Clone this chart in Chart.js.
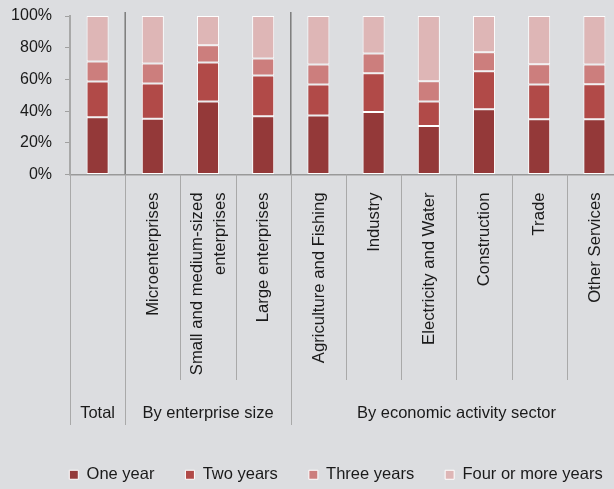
<!DOCTYPE html>
<html>
<head>
<meta charset="utf-8">
<script src="https://cdn.jsdelivr.net/npm/chart.js@4"></script>
<style>
  html, body { margin: 0; padding: 0; overflow: hidden; background: #dcdde0; }
  #wrap { width: 622px; height: 489px; position: relative; }
</style>
</head>
<body>
<div id="wrap"><canvas id="chart"></canvas></div>
<script>
const categories = [
  "Total", "Microenterprises", "Small and medium-sized enterprises", "Large enterprises",
  "Agriculture and Fishing", "Industry", "Electricity and Water", "Construction", "Trade", "Other Services"
];
// rotated labels under each bar (one entry per line)
const tickLabels = [
  [], ["Microenterprises"], ["Small and medium-sized", "enterprises"], ["Large enterprises"],
  ["Agriculture and Fishing"], ["Industry"], ["Electricity and Water"], ["Construction"], ["Trade"], ["Other Services"]
];
const groupNames = ["Total", "By enterprise size", "By economic activity sector"];
const groupSizes = [1, 3, 6];

const seriesNames = ["One year", "Two years", "Three years", "Four or more years"];
const oneYear    = [36.1, 35.2, 46.0, 36.7, 37.3, 39.4, 30.6, 41.1, 34.8, 34.8];
const twoYears   = [22.6, 22.2, 24.7, 25.7, 19.5, 24.5, 15.4, 24.1, 22.0, 22.2];
const threeYears = [12.6, 12.6, 10.9, 10.8, 12.6, 12.5, 12.9, 12.0, 12.8, 12.4];
const fourPlus   = [28.7, 30.0, 18.4, 26.8, 30.6, 23.6, 41.1, 22.8, 30.4, 30.6];
const yTicks = [0, 20, 40, 60, 80, 100];

const seriesColors = ["#943939", "#b14a48", "#cc7e7d", "#deb6b6"];
const FONT = "'Liberation Sans', Arial, sans-serif";
const TEXT = "#1a1a1a";

// section separators, group captions and the rotated category labels
const sectionLines = {
  id: "sectionLines",
  afterDraw(chart) {
    const { ctx, chartArea, scales: { x } } = chart;
    const half = (x.getPixelForValue(1) - x.getPixelForValue(0)) / 2;
    const edge = i => x.getPixelForValue(i) - half;

    const groupEdges = [0];
    groupSizes.forEach(n => groupEdges.push(groupEdges[groupEdges.length - 1] + n));

    ctx.save();
    // dark dividers inside the plot between groups
    ctx.strokeStyle = "#7b7b7b";
    ctx.lineWidth = 1.5;
    groupEdges.slice(1, -1).forEach(i => {
      const px = edge(i);
      ctx.beginPath();
      ctx.moveTo(px, chartArea.top - 4);
      ctx.lineTo(px, chartArea.bottom);
      ctx.stroke();
    });

    // light lines in the label area
    ctx.strokeStyle = "#a9a9a9";
    ctx.lineWidth = 1;
    for (let i = 0; i <= categories.length; i++) {
      const px = Math.round(edge(i)) + 0.5;
      const bottom = groupEdges.includes(i) ? 425 : 380;
      ctx.beginPath();
      ctx.moveTo(px, chartArea.bottom);
      ctx.lineTo(px, bottom);
      ctx.stroke();
    }

    // rotated category labels
    ctx.fillStyle = TEXT;
    ctx.font = "16.7px " + FONT;
    ctx.textAlign = "right";
    ctx.textBaseline = "middle";
    tickLabels.forEach((lines, i) => {
      const cx = x.getPixelForValue(i);
      lines.forEach((line, j) => {
        const off = (j - (lines.length - 1) / 2) * 23 + 0.5;
        ctx.save();
        ctx.translate(cx + off, chartArea.bottom + 18);
        ctx.rotate(-Math.PI / 2);
        ctx.fillText(line, 0, 0);
        ctx.restore();
      });
    });

    // group captions
    ctx.font = "16.5px " + FONT;
    ctx.textAlign = "center";
    ctx.textBaseline = "alphabetic";
    groupNames.forEach((name, g) => {
      const mid = (edge(groupEdges[g]) + edge(groupEdges[g + 1])) / 2;
      ctx.fillText(name, mid, 418);
    });
    ctx.restore();
  }
};

// the legend row sits centred under the plot, not under the whole canvas
const legendShift = {
  id: "legendShift",
  afterLayout(chart) {
    chart.legend.left += 25;
    chart.legend.right += 25;
  }
};

const seriesValues = [oneYear, twoYears, threeYears, fourPlus];

new Chart(document.getElementById("chart"), {
  type: "bar",
  data: {
    labels: categories,
    datasets: seriesNames.map((name, i) => ({
      label: name,
      data: seriesValues[i],
      backgroundColor: seriesColors[i],
      borderColor: "#ffffff",
      borderWidth: 1,
      borderSkipped: false,
      categoryPercentage: 1,
      barPercentage: 0.4
    }))
  },
  options: {
    responsive: true,
    maintainAspectRatio: false,
    animation: false,
    layout: { padding: { left: 0, top: 16, right: 0, bottom: -4 } },
    scales: {
      x: {
        stacked: true,
        ticks: { display: false },
        grid: { display: false },
        border: { color: "#999999", width: 1.5 },
        afterFit: s => { s.height = 261; }
      },
      y: {
        stacked: true,
        min: 0,
        max: 100,
        afterBuildTicks: s => { s.ticks = yTicks.map(v => ({ value: v })); },
        ticks: {
          callback: v => v + "%",
          color: TEXT,
          padding: 13,
          font: { family: FONT, size: 16 }
        },
        grid: { drawOnChartArea: false, tickLength: 5, color: "#a0a0a0" },
        border: { color: "#a8a8a8", width: 2 },
        afterFit: s => {
          s.width = 70;
          s.paddingTop = 0;
          s.paddingBottom = 0;
        }
      }
    },
    plugins: {
      legend: {
        position: "bottom",
        labels: {
          boxWidth: 9,
          boxHeight: 9,
          padding: 31,
          color: TEXT,
          font: { family: FONT, size: 16.5 }
        }
      },
      tooltip: { enabled: false }
    }
  },
  plugins: [sectionLines, legendShift]
});
</script>
</body>
</html>
